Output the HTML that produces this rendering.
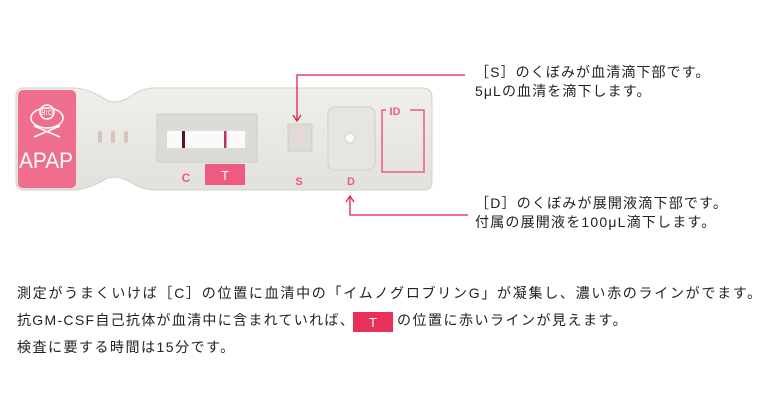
<!DOCTYPE html>
<html><head><meta charset="utf-8"><style>
body{margin:0;width:780px;height:409px;background:#fff;position:relative;overflow:hidden;font-family:"Liberation Sans","Noto Sans CJK JP",sans-serif;color:#222}
.t{position:absolute;font-size:14px;white-space:nowrap;line-height:18px}
</style></head><body>
<svg width="780" height="409" style="position:absolute;left:0;top:0">
<defs><linearGradient id="g" x1="0" y1="0" x2="0" y2="1"><stop offset="0" stop-color="#f0efea"/><stop offset="1" stop-color="#e2e1dc"/></linearGradient></defs>
<path d="M24 88 L76 88 Q92 90 108 101 Q118 104 130 97 Q140 89 152 88 L424 88 Q432 89 432 97 L432 182 Q432 190 424 190 L152 190 Q140 189 130 182 Q118 175 108 178 Q92 188 76 190 L24 190 Q16 190 16 182 L16 96 Q16 88 24 88Z" fill="url(#g)" stroke="#d2d1cc"/>
<rect x="18" y="90" width="58" height="98" rx="5" fill="#ef6d8d"/>
<g fill="none" stroke="#fff" stroke-width="1.5">
<ellipse cx="47" cy="118" rx="16" ry="10"/><circle cx="47" cy="112" r="7"/>
<path d="M34 126 L60 137 M60 126 L34 137"/></g>
<text x="47" y="115" font-size="7" fill="#fff" text-anchor="middle" font-family="Liberation Sans">BIO</text>
<text x="46" y="168" font-size="22" fill="#fff" text-anchor="middle" font-family="Liberation Sans" textLength="54" lengthAdjust="spacingAndGlyphs">APAP</text>
<g fill="#d8c4be"><rect x="98" y="131" width="4" height="12" rx="2"/><rect x="111" y="131" width="4" height="12" rx="2"/><rect x="124" y="131" width="4" height="12" rx="2"/></g>
<rect x="157" y="114" width="100" height="48" fill="#dcdbd5" stroke="#ccc"/>
<rect x="167" y="131" width="78" height="17" fill="#fbf9f9"/>
<rect x="182" y="131" width="3" height="17" fill="#5a1030"/>
<rect x="224" y="131" width="2.5" height="17" fill="#c0306a"/>
<text x="186" y="182" font-size="12" font-weight="bold" fill="#ef5a80" text-anchor="middle">C</text>
<rect x="205" y="164" width="40" height="21" fill="#ef5a80"/>
<text x="225" y="180" font-size="13" fill="#fff" text-anchor="middle">T</text>
<rect x="288" y="124" width="24" height="27" fill="#dcdbd5" stroke="#cfcdc8"/>
<rect x="294" y="131" width="11" height="12" fill="#e8d8d8"/>
<text x="299" y="185" font-size="11" font-weight="bold" fill="#ef5a80" text-anchor="middle">S</text>
<rect x="328" y="107" width="47" height="63" rx="7" fill="#e6e5df" stroke="#cfcdc8"/>
<circle cx="350" cy="138" r="5" fill="#f8f8f6" stroke="#d5d3ce"/>
<text x="351" y="185" font-size="11" font-weight="bold" fill="#ef5a80" text-anchor="middle">D</text>
<path d="M386 110 L382 110 L382 172 L424 172 L424 110 L410 110" fill="none" stroke="#ef5a80" stroke-width="1.5"/>
<text x="395" y="115" font-size="11" font-weight="bold" fill="#ef5a80" text-anchor="middle">ID</text>
<g stroke="#e0204a" stroke-width="1.3" fill="none">
<path d="M465 75 L297 75 L297 120"/><path d="M293 115 L297 121 L301 115"/>
<path d="M468 215 L350 215 L350 197"/><path d="M346 202 L350 196 L354 202"/>
</g>
<rect x="353" y="312" width="40" height="20" fill="#e8305a"/>
<text x="373" y="327" font-size="13" fill="#fff" text-anchor="middle">T</text>
</svg>
<div class="t" style="left:475px;top:63px;letter-spacing:1.1px">［S］のくぼみが血清滴下部です。</div>
<div class="t" style="left:475px;top:82px;letter-spacing:1.1px">5μLの血清を滴下します。</div>
<div class="t" style="left:475px;top:194px;letter-spacing:1.2px">［D］のくぼみが展開液滴下部です。</div>
<div class="t" style="left:475px;top:213px;letter-spacing:1.2px">付属の展開液を100μL滴下します。</div>
<div class="t" style="left:17px;top:284px;letter-spacing:1.72px">測定がうまくいけば［C］の位置に血清中の「イムノグロブリンG」が凝集し、濃い赤のラインがでます。</div>
<div class="t" style="left:17px;top:311px;letter-spacing:1.3px">抗GM-CSF自己抗体が血清中に含まれていれば、</div>
<div class="t" style="left:397px;top:311px;letter-spacing:1.5px">の位置に赤いラインが見えます。</div>
<div class="t" style="left:17px;top:338px;letter-spacing:1.5px">検査に要する時間は15分です。</div>
</body></html>
